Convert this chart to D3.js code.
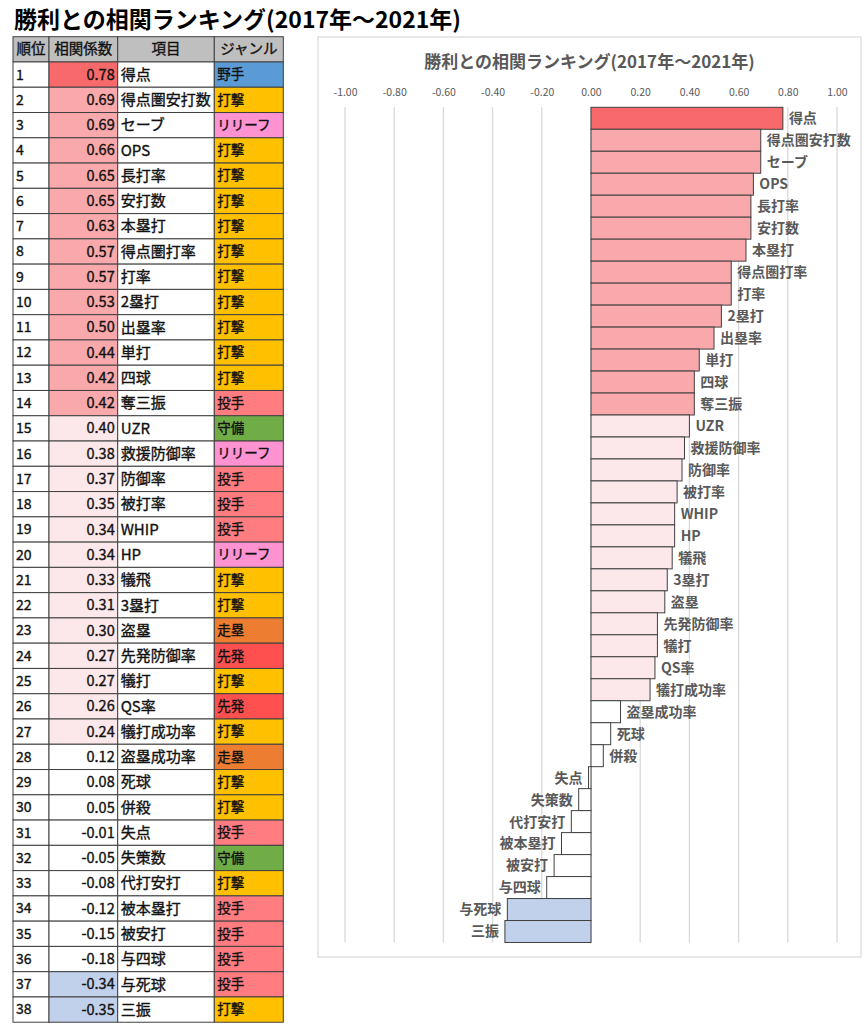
<!DOCTYPE html>
<html>
<head>
<meta charset="utf-8">
<script src="https://cdn.jsdelivr.net/npm/d3@7"></script>
<style>
  body { margin: 0; background: #fff; }
  text { font-family: "Noto Sans CJK JP", "Noto Sans", sans-serif; }
  .cell { stroke: #111; stroke-width: 0.35px; }
</style>
</head>
<body>
<svg id="mysvg"></svg>
<script>
// data
var items = ["得点", "得点圏安打数", "セーブ", "OPS", "長打率", "安打数", "本塁打", "得点圏打率", "打率", "2塁打",
    "出塁率", "単打", "四球", "奪三振", "UZR", "救援防御率", "防御率", "被打率", "WHIP", "HP",
    "犠飛", "3塁打", "盗塁", "先発防御率", "犠打", "QS率", "犠打成功率", "盗塁成功率", "死球", "併殺",
    "失点", "失策数", "代打安打", "被本塁打", "被安打", "与四球", "与死球", "三振"];
var coefs = [0.78, 0.69, 0.69, 0.66, 0.65, 0.65, 0.63, 0.57, 0.57, 0.53,
    0.50, 0.44, 0.42, 0.42, 0.40, 0.38, 0.37, 0.35, 0.34, 0.34,
    0.33, 0.31, 0.30, 0.27, 0.27, 0.26, 0.24, 0.12, 0.08, 0.05,
    -0.01, -0.05, -0.08, -0.12, -0.15, -0.18, -0.34, -0.35];
var genres = ["野手", "打撃", "リリーフ", "打撃", "打撃", "打撃", "打撃", "打撃", "打撃", "打撃",
    "打撃", "打撃", "打撃", "投手", "守備", "リリーフ", "投手", "投手", "投手", "リリーフ",
    "打撃", "打撃", "走塁", "先発", "打撃", "先発", "打撃", "走塁", "打撃", "打撃",
    "投手", "守備", "打撃", "投手", "投手", "投手", "投手", "打撃"];
var headers = ["順位", "相関係数", "項目", "ジャンル"];
var tickValues = [-1, -0.8, -0.6, -0.4, -0.2, 0, 0.2, 0.4, 0.6, 0.8, 1];
var TITLE = "勝利との相関ランキング(2017年～2021年)";

var rows = items.map(function(d, i) {
    return {rank: i + 1, item: d, coef: coefs[i], genre: genres[i]};
});

// styles
var GENRE_COLOR = {
    "野手": "#5B9BD5", "打撃": "#FFC000", "リリーフ": "#FF93D1", "投手": "#FF7C80",
    "守備": "#70AD47", "走塁": "#ED7D31", "先発": "#FF5050"
};
function coefColor(v) {
    if (v >= 0.7) return "#F8696B";
    if (v >= 0.41) return "#F9A9AB";
    if (v >= 0.2) return "#FCE8EB";
    if (v > -0.3) return "#FFFFFF";
    return "#C2D1EB";
}
var fmt = function(v) { return v.toFixed(2); };

var svg = d3.select("#mysvg").attr("width", 865).attr("height", 1024);

// page title
svg.append("text")
    .attr("x", 14).attr("y", 28)
    .attr("font-size", 23).attr("font-weight", "bold")
    .attr("fill", "#000")
    .text(TITLE);

// ---- table ----
var colX = [13, 49, 117.7, 214.3, 283.3];
var tableTop = 36.7, rowH = 25.27;

var head = svg.append("g");
headers.forEach(function(h, j) {
    head.append("rect")
        .attr("x", colX[j]).attr("y", tableTop)
        .attr("width", colX[j + 1] - colX[j]).attr("height", rowH)
        .attr("fill", "#BFBFBF").attr("stroke", "#404040");
    head.append("text")
        .attr("class", "cell")
        .attr("x", (colX[j] + colX[j + 1]) / 2).attr("y", tableTop + rowH / 2)
        .attr("dy", "0.35em").attr("text-anchor", "middle")
        .attr("font-size", 14.5).attr("fill", "#111")
        .text(h);
});

var tr = svg.selectAll("g.row").data(rows).enter().append("g")
    .attr("class", "row")
    .attr("transform", function(d, i) { return "translate(0," + (tableTop + rowH * (i + 1)) + ")"; });

var cellFill = [
    function() { return "#fff"; },
    function(d) { return coefColor(d.coef); },
    function() { return "#fff"; },
    function(d) { return GENRE_COLOR[d.genre]; }
];
cellFill.forEach(function(f, j) {
    tr.append("rect")
        .attr("x", colX[j]).attr("y", 0)
        .attr("width", colX[j + 1] - colX[j]).attr("height", rowH)
        .attr("fill", f).attr("stroke", "#404040");
});
tr.append("text").attr("class", "cell").attr("x", colX[0] + 3).attr("y", rowH / 2).attr("dy", "0.35em")
    .attr("font-size", 14).attr("fill", "#111")
    .text(function(d) { return d.rank; });
tr.append("text").attr("class", "cell").attr("x", colX[2] - 3).attr("y", rowH / 2).attr("dy", "0.35em")
    .attr("text-anchor", "end").attr("font-size", 14.5).attr("fill", "#111")
    .text(function(d) { return fmt(d.coef); });
tr.append("text").attr("class", "cell").attr("x", colX[2] + 3).attr("y", rowH / 2).attr("dy", "0.35em")
    .attr("font-size", 15).attr("fill", "#111")
    .text(function(d) { return d.item; });
tr.append("text").attr("class", "cell").attr("x", colX[3] + 3).attr("y", rowH / 2).attr("dy", "0.35em")
    .attr("font-size", 13.5).attr("fill", "#111")
    .text(function(d) { return d.genre; });

// ---- chart ----
var box = {x: 318, y: 37, w: 543, h: 920};
svg.append("rect")
    .attr("x", box.x).attr("y", box.y).attr("width", box.w).attr("height", box.h)
    .attr("fill", "#fff").attr("stroke", "#D9D9D9").attr("stroke-width", 1.2);

svg.append("text")
    .attr("x", box.x + box.w / 2).attr("y", 62).attr("dy", "0.35em")
    .attr("text-anchor", "middle")
    .attr("font-size", 17).attr("font-weight", "bold").attr("fill", "#595959")
    .text(TITLE);

var x = d3.scaleLinear().domain([-1, 1]).range([345, 837]);
var y = d3.scaleBand().domain(items).range([107.3, 942.5]).padding(0);

// gridlines
svg.append("g").selectAll("line").data(tickValues).enter().append("line")
    .attr("x1", function(d) { return x(d); }).attr("x2", function(d) { return x(d); })
    .attr("y1", y.range()[0]).attr("y2", y.range()[1])
    .attr("stroke", "#D9D9D9").attr("stroke-width", 1.3);

// top axis labels
var axis = svg.append("g")
    .attr("transform", "translate(0,92)")
    .call(d3.axisTop(x).tickValues(tickValues).tickFormat(fmt).tickSize(0).tickPadding(0));
axis.select(".domain").remove();
axis.selectAll("text")
    .attr("dy", "0.35em")
    .attr("font-family", "\"Noto Sans CJK JP\", \"Noto Sans\", sans-serif")
    .attr("font-size", 10.5).attr("fill", "#595959");

// bars
svg.append("g").selectAll("rect").data(rows).enter().append("rect")
    .attr("x", function(d) { return x(Math.min(0, d.coef)); })
    .attr("y", function(d) { return y(d.item); })
    .attr("width", function(d) { return Math.abs(x(d.coef) - x(0)); })
    .attr("height", y.bandwidth())
    .attr("fill", function(d) { return coefColor(d.coef); })
    .attr("stroke", "#404040").attr("stroke-width", 1);

// bar labels
svg.append("g").selectAll("text").data(rows).enter().append("text")
    .attr("x", function(d) { return d.coef >= 0 ? x(d.coef) + 6 : x(d.coef) - 6; })
    .attr("y", function(d) { return y(d.item) + y.bandwidth() / 2; })
    .attr("dy", "0.35em")
    .attr("text-anchor", function(d) { return d.coef >= 0 ? "start" : "end"; })
    .attr("font-size", 14).attr("font-weight", "bold").attr("fill", "#595959")
    .text(function(d) { return d.item; });
</script>
</body>
</html>
